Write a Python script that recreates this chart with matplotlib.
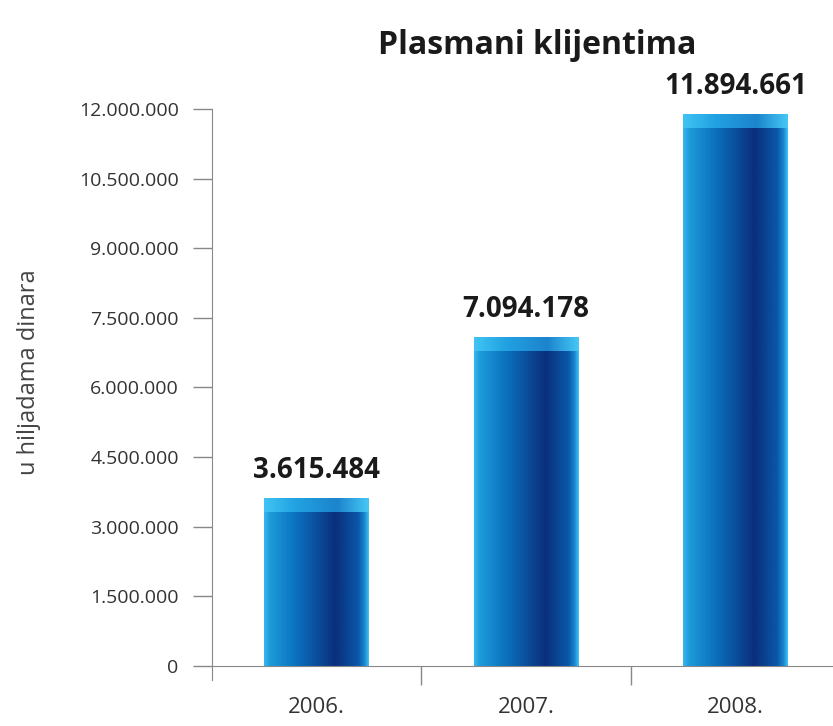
import numpy as np
import matplotlib.pyplot as plt
from matplotlib.colors import LinearSegmentedColormap

# data
years = ["2006.", "2007.", "2008."]
values = [3615484, 7094178, 11894661]
value_labels = ["3.615.484", "7.094.178", "11.894.661"]
yticks = [0, 1500000, 3000000, 4500000, 6000000, 7500000, 9000000, 10500000, 12000000]
ytick_labels = ["0", "1.500.000", "3.000.000", "4.500.000", "6.000.000",
                "7.500.000", "9.000.000", "10.500.000", "12.000.000"]

plt.rcParams['font.family'] = ['Open Sans', 'DejaVu Sans']

fig = plt.figure(figsize=(8.33, 7.26), dpi=100)
ax = fig.add_axes([212 / 833, 1 - 666 / 726, 628 / 833, (666 - 109) / 726])

# gradient for the bar body (left light -> dark navy -> blue edge)
body_cmap = LinearSegmentedColormap.from_list("body", [
    (0.0, "#35b8ee"), (0.06, "#1d9ad8"), (0.3, "#0b72c0"),
    (0.68, "#0a2f7c"), (0.9, "#0a58a8"), (0.96, "#1a86d0"), (1.0, "#3ec4f4")])
cap_cmap = LinearSegmentedColormap.from_list("cap", [
    (0.0, "#40c4f4"), (0.3, "#22a2e2"), (0.7, "#1c84cc"), (1.0, "#46c8f6")])
grad = np.linspace(0, 1, 256).reshape(1, -1)

x = np.arange(len(years))
bars = ax.bar(x, values, width=0.5, color="none", edgecolor="none", zorder=2)
cap_h = 300000
for b in bars:
    bx, bw, bh = b.get_x(), b.get_width(), b.get_height()
    im = ax.imshow(grad, cmap=body_cmap, aspect="auto", extent=[bx, bx + bw, 0, bh],
                   zorder=2, interpolation="bicubic")
    im.set_clip_path(b)
    ax.imshow(grad, cmap=cap_cmap, aspect="auto", extent=[bx, bx + bw, bh - cap_h, bh],
              zorder=3, interpolation="bicubic")

for xi, v, lab in zip(x, values, value_labels):
    ax.text(xi, v + 280000, lab, ha="center", va="bottom", fontsize=20,
            fontweight="bold", color="#1a1a1a")

ax.set_xlim(-0.5, 2.5)
ax.set_ylim(0, 12000000)
ax.set_yticks(yticks)
ax.set_yticklabels(ytick_labels)
ax.set_xticks([0.5, 1.5])
ax.set_xticklabels([])
ax.set_xticks(x, minor=True)
ax.set_xticklabels(years, minor=True)
ax.tick_params(axis="x", which="minor", length=0, pad=22, labelsize=16, labelcolor="#333333")
ax.tick_params(axis="x", which="major", length=14, color="#888888", width=1)
ax.tick_params(axis="y", length=14, color="#888888", width=1, pad=10,
               labelsize=14, labelcolor="#333333")

for s in ["top", "right"]:
    ax.spines[s].set_visible(False)
ax.spines["left"].set_color("#888888")
ax.spines["bottom"].set_color("#888888")
ax.spines["left"].set_bounds(-300000, 12000000)

fig.text(29 / 833, 1 - 372 / 726, "u hiljadama dinara", rotation=90, ha="center",
         va="center", fontsize=17, color="#444444")
fig.text(537 / 833, 1 - 45 / 726, "Plasmani klijentima", ha="center", va="center",
         fontsize=23, fontweight="bold", color="#1a1a1a")

fig.savefig("out.png", dpi=100)
